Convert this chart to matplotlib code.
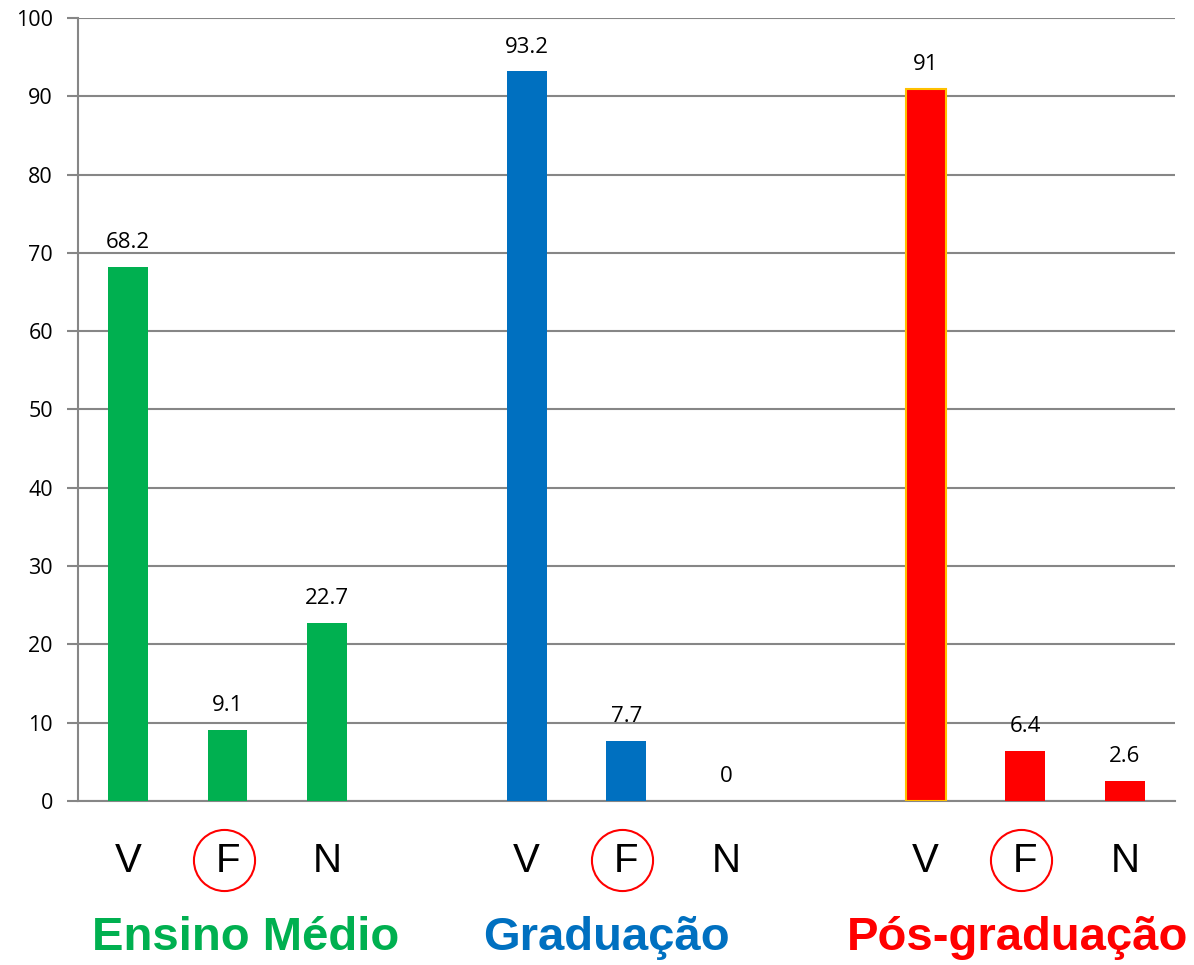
import numpy as np
import matplotlib.pyplot as plt
from matplotlib.transforms import blended_transform_factory

# DATA
groups = ['Ensino Médio', 'Graduação', 'Pós-graduação']
answers = ['V', 'F', 'N']
ensino = [68.2, 9.1, 22.7]
graduacao = [93.2, 7.7, 0]
pos = [91, 6.4, 2.6]
value_labels = [['68.2', '9.1', '22.7'], ['93.2', '7.7', '0'], ['91', '6.4', '2.6']]
group_colors = ['#00B050', '#0070C0', '#FF0000']

fig = plt.figure(figsize=(11.94, 9.65), dpi=100)
ax = fig.add_axes([0.0653, 0.170, 0.9187, 0.8113])

series = [ensino, graduacao, pos]
label_shift = [0.18, -0.2, -0.08]  # group titles are not exactly centred
trans = blended_transform_factory(ax.transData, ax.transAxes)
for g, vals in enumerate(series):
    xs = np.arange(3) + g * 4  # one empty slot between groups
    edge = ['none'] * 3
    if g == 2:
        edge[0] = '#FFC000'  # gold outline on the Pós V bar
    ax.bar(xs, vals, width=0.4, color=group_colors[g], edgecolor=edge,
           linewidth=1.5, zorder=3)
    for x, v, lab in zip(xs, vals, value_labels[g]):
        ax.annotate(lab, (x, v), xytext=(0, 13.5), textcoords='offset points',
                    ha='center', va='baseline', fontsize=16, family='Open Sans')
    for x, a in zip(xs, answers):
        ax.text(x, -0.077, a, transform=trans, ha='center', va='center',
                fontsize=29, family='Liberation Sans')
        if a == 'F':
            ax.plot([x - 0.04], [-0.075], marker='o', markersize=44, mfc='none',
                    mec='#FF0000', mew=1.5, transform=trans, clip_on=False)
    ax.text(xs[1] + label_shift[g], -0.175, groups[g], transform=trans,
            ha='center', va='center', fontsize=34, fontweight='bold',
            color=group_colors[g], family='Liberation Sans')

ax.set_xlim(-0.5, 10.5)
ax.set_ylim(0, 100)
ax.set_yticks(np.arange(0, 101, 10))
ax.set_xticks([])
ax.tick_params(axis='y', length=8, width=1.5, color='#868686', labelsize=15.5, pad=10)
for lab in ax.get_yticklabels():
    lab.set_family('Open Sans')
ax.grid(axis='y', color='#868686', linewidth=1.5, zorder=0)
ax.set_axisbelow(True)
for s in ['top', 'right']:
    ax.spines[s].set_visible(False)
for s in ['left', 'bottom']:
    ax.spines[s].set_color('#868686')
    ax.spines[s].set_linewidth(1.5)

fig.savefig('out.png', dpi=100)
